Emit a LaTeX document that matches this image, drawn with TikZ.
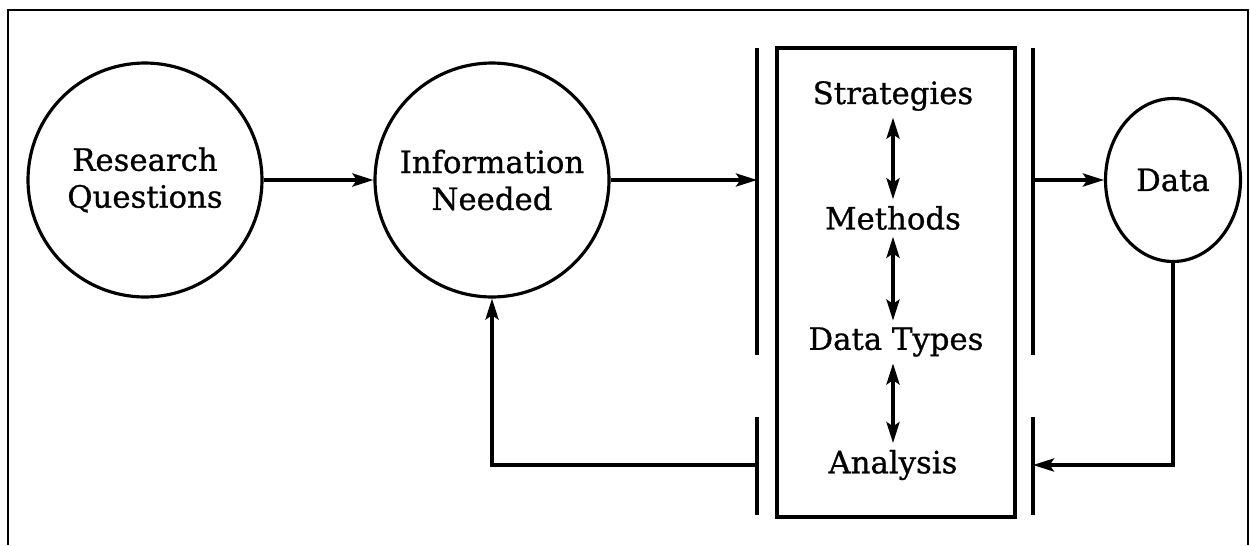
\documentclass[tikz,border=0pt]{standalone}
\usepackage{fontspec}
\setmainfont{DejaVu Serif}[FakeBold=0.8]
\usetikzlibrary{arrows.meta,shapes.geometric}
\begin{document}
\begin{tikzpicture}[x=0.02cm,y=-0.02cm,
  line width=1.8pt,
  tip/.tip={Stealth[length=12pt,width=7.5pt,inset=2.5pt]},
  lbl/.style={font=\fontsize{17.5}{21}\selectfont, align=center},
  bubble/.style={draw, circle, minimum size=4.68cm, inner sep=0pt, lbl},
  flow/.style={-tip},
  both/.style={tip-tip},
  item/.style={lbl, inner sep=3pt}]
\useasboundingbox (0,0) rectangle (1250,545);

% page frame (open at the bottom)
\draw[line width=1.5pt] (8,545) -- (8,10) -- (1248,10) -- (1248,545);

% main stages
\node[bubble] (rq) at (145,180) {Research\\Questions};
\node[bubble] (info) at (492,180) {Information\\Needed};
\node[draw, ellipse, minimum width=2.7cm, minimum height=3.26cm, inner sep=0pt, lbl] (data) at (1173,180) {Data};

% central design box
\node[draw, rectangle, minimum width=4.76cm, minimum height=9.38cm, inner sep=0pt] (design) at (896,282.5) {};
\node[item] (strat) at (893,96) {Strategies};
\node[item] (meth) at (893,218) {Methods};
\node[item] (dtyp) at (896,342) {Data Types};
\node[item] (anal) at (893,465) {Analysis};
\draw[both] (strat.south) -- (meth.north);
\draw[both] (meth.south) -- (meth.south |- dtyp.north);
\draw[both] (anal.north |- dtyp.south) -- (anal.north);

% walls beside the box
\coordinate (wLtop) at (757,48);
\coordinate (wLmid) at (757,355);
\coordinate (wLlow) at (757,417);
\coordinate (wLbot) at (757,515);
\coordinate (wRtop) at (1033,48);
\coordinate (wRmid) at (1033,355);
\coordinate (wRlow) at (1033,417);
\coordinate (wRbot) at (1033,515);
\draw (wLtop) -- (wLmid);
\draw (wLlow) -- (wLbot);
\draw (wRtop) -- (wRmid);
\draw (wRlow) -- (wRbot);

% connection points on the walls
\coordinate (inL) at (757,180);
\coordinate (outR) at (1033,180);
\coordinate (backL) at (757,465);
\coordinate (backR) at (1033,465);

% connectors
\draw[flow] (rq) -- (info);
\draw[flow] (info.east) -- (inL);
\draw[flow] (outR) -- (data.west);
\draw[flow] (data.south) |- (backR);
\draw[flow] (backL) -| (info.south);
\end{tikzpicture}
\end{document}
